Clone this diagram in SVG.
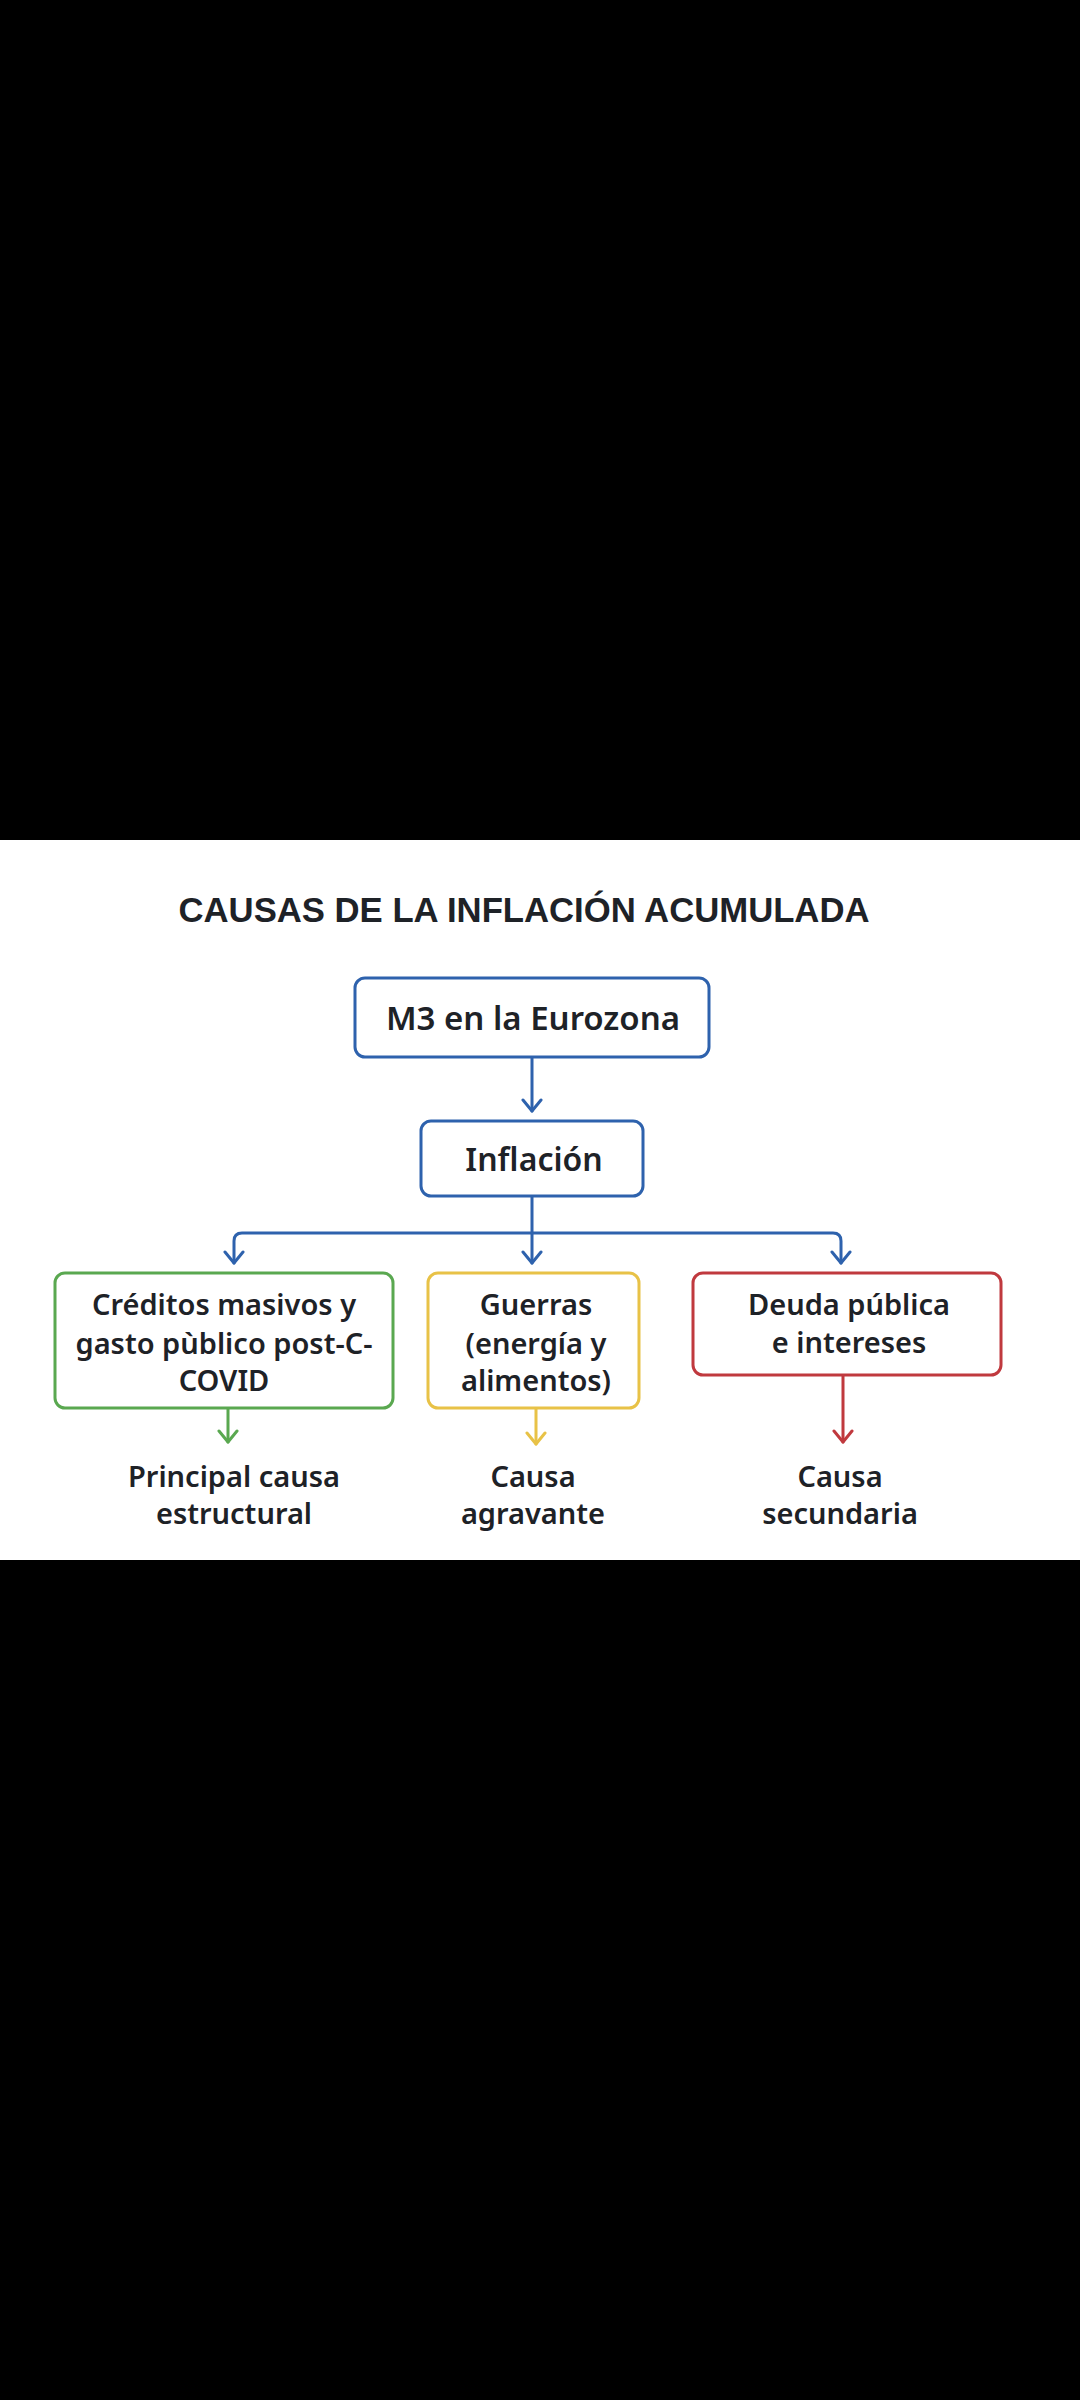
<svg xmlns="http://www.w3.org/2000/svg" width="1080" height="2400" viewBox="0 0 1080 2400">
<style>
.t{font-family:"Noto Sans","Liberation Sans",sans-serif;font-weight:600;fill:#1e2227;text-anchor:middle}
.title{font-family:"Liberation Sans","Noto Sans",sans-serif;font-weight:700;font-size:35px;fill:#1e2227;text-anchor:middle}
.box{fill:#fff;stroke-width:3}
.c{fill:none;stroke-width:3;stroke-linecap:round;stroke-linejoin:round}
</style>
<defs>
<marker id="ab" viewBox="-14 -12 16 24" refX="0" refY="0" markerWidth="16" markerHeight="24" markerUnits="userSpaceOnUse" orient="auto"><path d="M-11,-9 L0,0 L-11,9" fill="none" stroke="#2e62ad" stroke-width="3" stroke-linecap="round" stroke-linejoin="round"/></marker>
<marker id="ag" viewBox="-14 -12 16 24" refX="0" refY="0" markerWidth="16" markerHeight="24" markerUnits="userSpaceOnUse" orient="auto"><path d="M-11,-9 L0,0 L-11,9" fill="none" stroke="#5aa850" stroke-width="3" stroke-linecap="round" stroke-linejoin="round"/></marker>
<marker id="ay" viewBox="-14 -12 16 24" refX="0" refY="0" markerWidth="16" markerHeight="24" markerUnits="userSpaceOnUse" orient="auto"><path d="M-11,-9 L0,0 L-11,9" fill="none" stroke="#e8c247" stroke-width="3" stroke-linecap="round" stroke-linejoin="round"/></marker>
<marker id="ar" viewBox="-14 -12 16 24" refX="0" refY="0" markerWidth="16" markerHeight="24" markerUnits="userSpaceOnUse" orient="auto"><path d="M-11,-9 L0,0 L-11,9" fill="none" stroke="#c0393e" stroke-width="3" stroke-linecap="round" stroke-linejoin="round"/></marker>
</defs>
<rect x="0" y="0" width="1080" height="2400" fill="#000"/>
<rect x="0" y="840" width="1080" height="720" fill="#fff"/>
<text class="title" x="524" y="922" textLength="691" lengthAdjust="spacingAndGlyphs">CAUSAS DE LA INFLACIÓN ACUMULADA</text>
<g id="connectors">
<path class="c" stroke="#2e62ad" d="M532,1057 V1111" marker-end="url(#ab)"/>
<path class="c" stroke="#2e62ad" d="M532,1196 V1263" marker-end="url(#ab)"/>
<path class="c" stroke="#2e62ad" d="M532,1233 H242 Q234,1233 234,1241 V1263" marker-end="url(#ab)"/>
<path class="c" stroke="#2e62ad" d="M532,1233 H833 Q841,1233 841,1241 V1263" marker-end="url(#ab)"/>
<path class="c" stroke="#5aa850" d="M228,1408 V1442" marker-end="url(#ag)"/>
<path class="c" stroke="#e8c247" d="M536,1408 V1444" marker-end="url(#ay)"/>
<path class="c" stroke="#c0393e" d="M843,1375 V1442" marker-end="url(#ar)"/>
</g>
<g id="m3">
<rect class="box" stroke="#2e62ad" x="355" y="978" width="354" height="79" rx="10"/>
<text class="t" x="533" y="1030" font-size="33">M3 en la Eurozona</text>
</g>
<g id="inflacion">
<rect class="box" stroke="#2e62ad" x="421" y="1121" width="222" height="75" rx="10"/>
<text class="t" x="534" y="1171" font-size="32">Inflación</text>
</g>
<g id="creditos">
<rect class="box" stroke="#5aa850" x="55" y="1273" width="338" height="135" rx="10"/>
<text class="t" font-size="29" x="224" y="1315">Créditos masivos y</text>
<text class="t" font-size="29" x="224" y="1354">gasto pùblico post-C-</text>
<text class="t" font-size="29" x="224" y="1391">COVID</text>
</g>
<g id="guerras">
<rect class="box" stroke="#e8c247" x="428" y="1273" width="211" height="135" rx="10"/>
<text class="t" font-size="29" x="536" y="1315">Guerras</text>
<text class="t" font-size="29" x="536" y="1354">(energía y</text>
<text class="t" font-size="29" x="536" y="1391">alimentos)</text>
</g>
<g id="deuda">
<rect class="box" stroke="#c0393e" x="693" y="1273" width="308" height="102" rx="10"/>
<text class="t" font-size="29" x="849" y="1315">Deuda pública</text>
<text class="t" font-size="29" x="849" y="1353">e intereses</text>
</g>
<g id="lbl-principal">
<text class="t" font-size="29" x="234" y="1487">Principal causa</text>
<text class="t" font-size="29" x="234" y="1524">estructural</text>
</g>
<g id="lbl-agravante">
<text class="t" font-size="29" x="533" y="1487">Causa</text>
<text class="t" font-size="29" x="533" y="1524">agravante</text>
</g>
<g id="lbl-secundaria">
<text class="t" font-size="29" x="840" y="1487">Causa</text>
<text class="t" font-size="29" x="840" y="1524">secundaria</text>
</g>
</svg>
